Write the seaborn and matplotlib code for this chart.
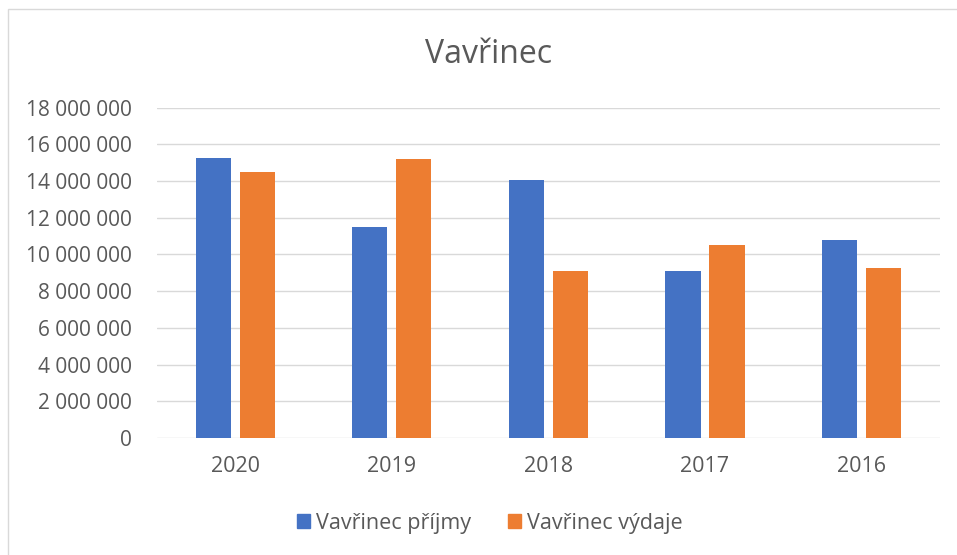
import matplotlib.pyplot as plt
import matplotlib.patches as mpatches
import pandas as pd
import seaborn as sns

years = ["2020", "2019", "2018", "2017", "2016"]
prijmy = [15250000, 11500000, 14070000, 9120000, 10770000]
vydaje = [14470000, 15210000, 9070000, 10500000, 9270000]
series = ["Vavřinec příjmy", "Vavřinec výdaje"]
colors = ["#4472C4", "#ED7D31"]

df = pd.DataFrame({
    "rok": years * 2,
    "hodnota": prijmy + vydaje,
    "serie": [series[0]] * len(years) + [series[1]] * len(years),
})

sns.set_style("white")
plt.rcParams['font.family'] = ['Open Sans', 'DejaVu Sans']
text_color = "#595959"

fig = plt.figure(figsize=(9.57, 5.55), dpi=100)
ax = fig.add_axes([0.164, 0.211, 0.818, 0.595])

sns.barplot(data=df, x="rok", y="hodnota", hue="serie", order=years,
            hue_order=series, palette=colors, width=0.5625, gap=0.2,
            saturation=1, linewidth=0, legend=False, ax=ax)

ax.set_ylim(0, 18000000)
ax.set_yticks(range(0, 18000001, 2000000))
ax.set_yticklabels([f"{v:,.0f}".replace(",", " ") for v in range(0, 18000001, 2000000)])
ax.grid(axis="y", color="#D9D9D9", linewidth=1.0)
ax.set_axisbelow(True)
for s in ax.spines.values():
    s.set_visible(False)
ax.tick_params(axis="y", length=0, pad=18, labelsize=15, labelcolor=text_color)
ax.tick_params(axis="x", length=0, pad=13, labelsize=15.5, labelcolor=text_color)
ax.set_xlabel("")
ax.set_ylabel("")

fig.text(0.51, 0.901, "Vavřinec", ha="center", va="center", fontsize=23, color=text_color)

handles = [mpatches.Patch(color=c, label=l) for c, l in zip(colors, series)]
fig.legend(handles=handles, loc="center", bbox_to_anchor=(0.512, 1 - 523 / 555), ncol=2,
           frameon=False, fontsize=15.5, labelcolor=text_color, handlelength=0.6,
           handleheight=0.6, handletextpad=0.3, columnspacing=1.7)

# chart border (Excel-style frame)
fig.patches.append(mpatches.Rectangle((8 / 957, -0.1), 1.2, 1 - 9 / 555 + 0.1, transform=fig.transFigure,
                                      fill=False, edgecolor="#D9D9D9", linewidth=1.0))

fig.savefig("out.png", dpi=100)
